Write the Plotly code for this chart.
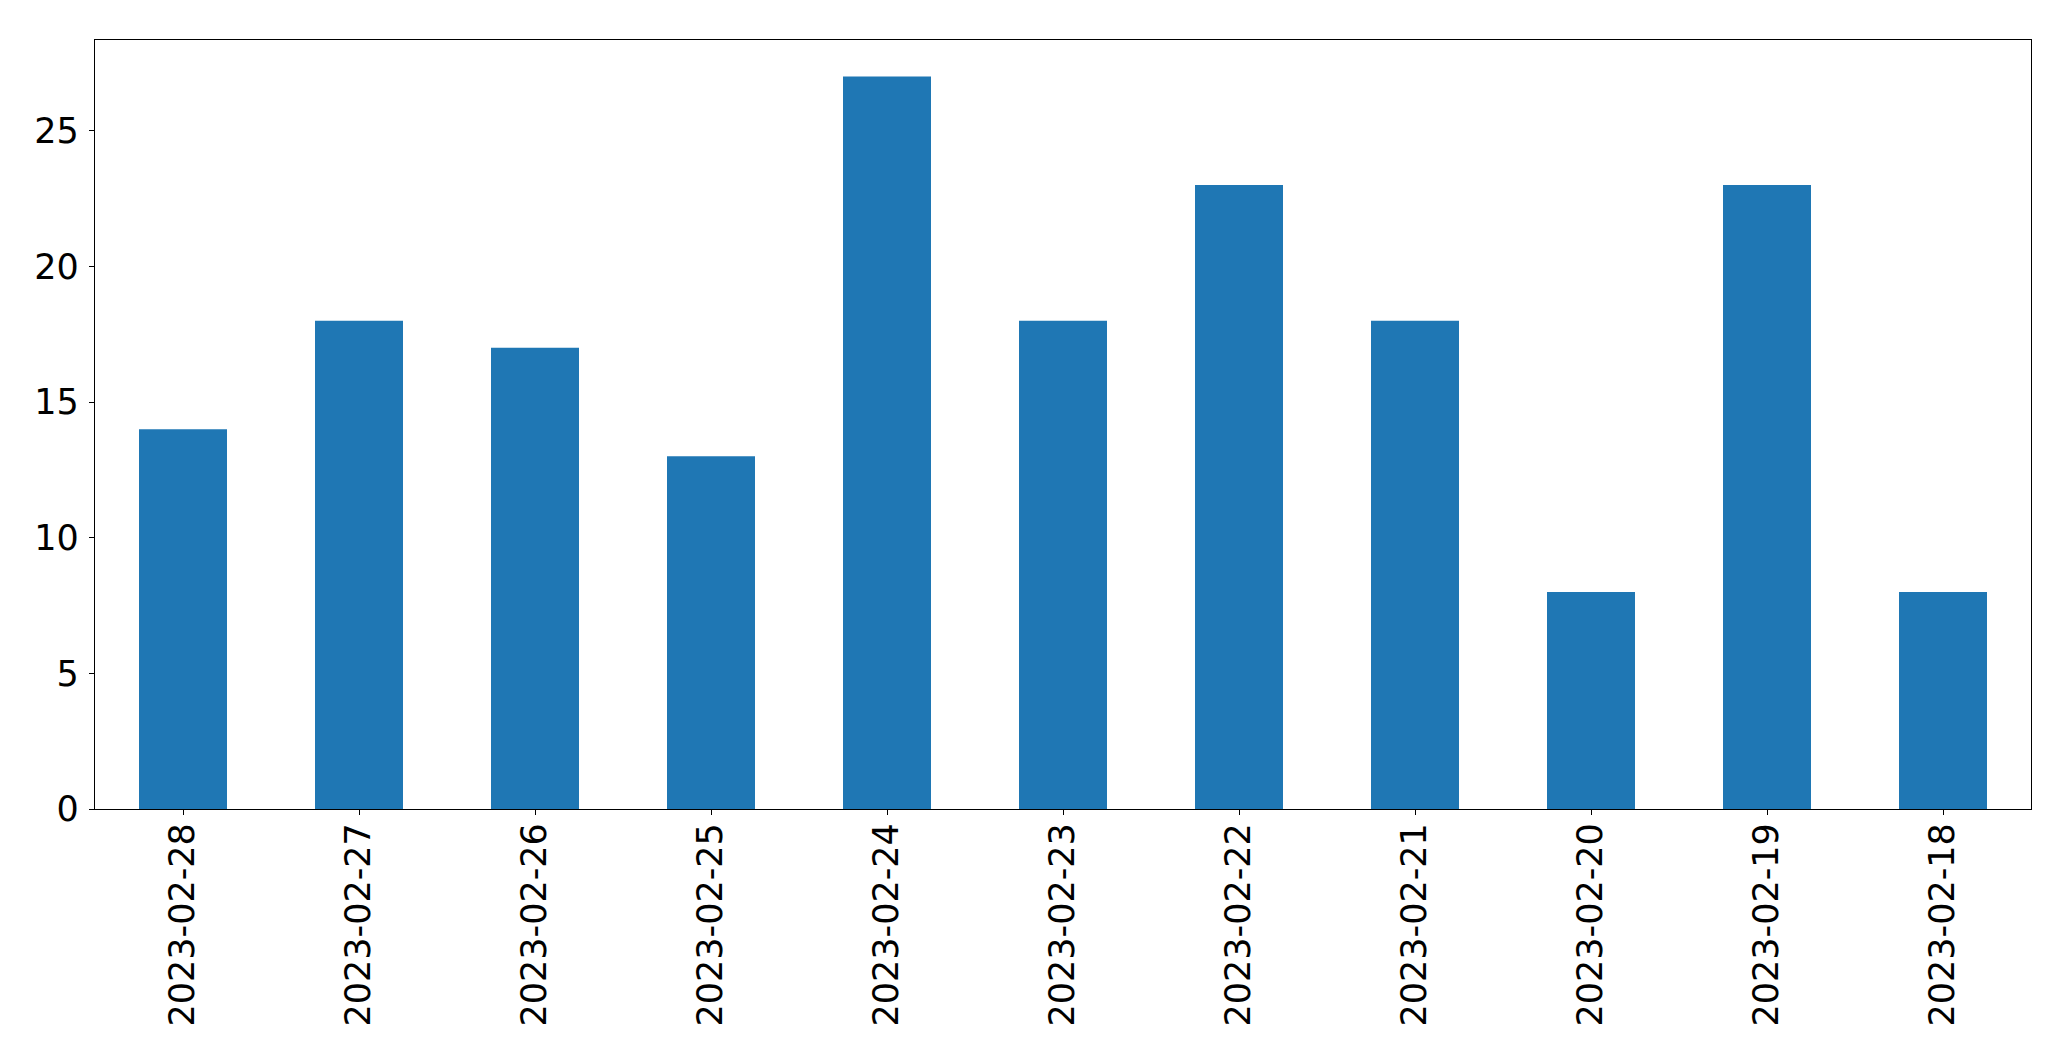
import plotly.graph_objects as go

dates = ["2023-02-28", "2023-02-27", "2023-02-26", "2023-02-25", "2023-02-24",
         "2023-02-23", "2023-02-22", "2023-02-21", "2023-02-20", "2023-02-19", "2023-02-18"]
counts = [14, 18, 17, 13, 27, 18, 23, 18, 8, 23, 8]
y_ticks = [0, 5, 10, 15, 20, 25]

fig = go.Figure(go.Bar(x=dates, y=counts, marker=dict(color="#1f77b4", line=dict(width=0)),
                       width=0.5))

font = dict(family="DejaVu Sans", size=35, color="black")
fig.update_layout(
    width=2071, height=1061,
    margin=dict(l=94.5, r=39.5, t=39.5, b=252),
    paper_bgcolor="white", plot_bgcolor="white",
    showlegend=False, bargap=0.5,
    font=font,
)
fig.update_xaxes(type="category", range=[-0.5, len(dates) - 0.5], tickangle=-90,
                 showline=True, linecolor="black", linewidth=1.3, mirror=True,
                 ticks="outside", ticklen=5, tickcolor="black", tickwidth=1.3,
                 showgrid=False, zeroline=False, tickfont=font, ticklabelstandoff=-6)
fig.update_yaxes(range=[0, 28.35], tickvals=y_ticks,
                 showline=True, linecolor="black", linewidth=1.3, mirror=True,
                 ticks="outside", ticklen=5, tickcolor="black", tickwidth=1.3,
                 showgrid=False, zeroline=False, tickfont=font, ticklabelstandoff=3)

fig.write_html("out.html")
